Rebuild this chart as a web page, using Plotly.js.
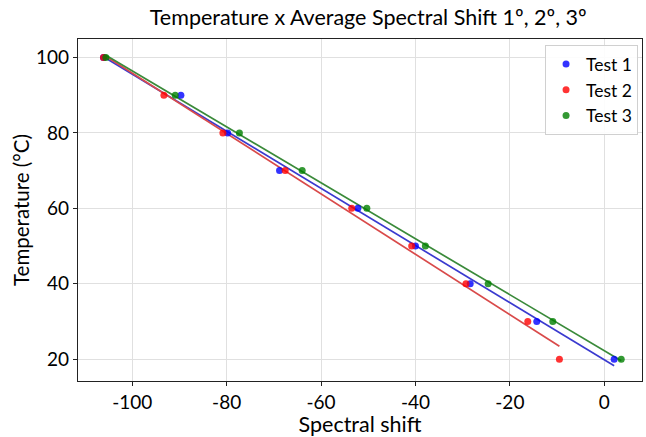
<!DOCTYPE html>
<html>
<head>
<meta charset="utf-8">
<script src="https://cdn.plot.ly/plotly-3.0.1.min.js"></script>
<style>body{margin:0;padding:0;background:#fff}#chart{width:646px;height:437px}</style>
</head>
<body>
<div id="chart"></div>
<script>
const temperature = [100, 90, 80, 70, 60, 50, 40, 30, 20];
const test1Shift = [-106.1, -89.7, -79.8, -68.8, -52.2, -40.0, -28.4, -14.3, 2.1];
const test2Shift = [-106.1, -93.3, -80.8, -67.6, -53.5, -40.8, -29.3, -16.2, -9.5];
const test3Shift = [-105.6, -90.9, -77.3, -64.0, -50.3, -37.9, -24.6, -10.9, 3.6];
const seriesNames = ["Test 1", "Test 2", "Test 3"];
const markerColors = ["#0000ff", "#ff0000", "#008000"];
const lineColors = ["#3a3acf", "#d94a4a", "#3a8a3a"];
const xTicks = [-100, -80, -60, -40, -20, 0];
const yTicks = [20, 40, 60, 80, 100];

function fit(xs, ys) {
  const n = xs.length;
  const mx = xs.reduce((a, b) => a + b, 0) / n;
  const my = ys.reduce((a, b) => a + b, 0) / n;
  let sxy = 0, sxx = 0;
  for (let i = 0; i < n; i++) { sxy += (xs[i] - mx) * (ys[i] - my); sxx += (xs[i] - mx) ** 2; }
  const m = sxy / sxx, c = my - m * mx;
  const xmin = Math.min(...xs), xmax = Math.max(...xs);
  return { x: [xmin, xmax], y: [m * xmin + c, m * xmax + c] };
}

const all = [test1Shift, test2Shift, test3Shift];
const traces = [];
all.forEach((s, i) => {
  const f = fit(s, temperature);
  traces.push({ x: f.x, y: f.y, mode: 'lines', line: { color: lineColors[i], width: 1.7 }, showlegend: false, hoverinfo: 'skip' });
});
all.forEach((s, i) => {
  traces.push({ x: s, y: temperature, mode: 'markers', name: seriesNames[i],
    marker: { color: markerColors[i], size: 7, opacity: 0.8 } });
});

const font = "Lato, 'Open Sans', sans-serif";
const layout = {
  width: 646, height: 437,
  margin: { l: 78, r: 4, t: 39, b: 56 },
  paper_bgcolor: '#fff', plot_bgcolor: '#fff',
  font: { family: font, color: '#000', size: 18 },
  title: { text: 'Temperature x Average Spectral Shift 1º, 2º, 3º', x: 0.57, xanchor: 'center', y: 0.96, yanchor: 'middle', font: { size: 21.5, family: font } },
  xaxis: {
    range: [-111.5, 8], tickvals: xTicks, ticktext: xTicks.map(String),
    showgrid: true, gridcolor: '#e0e0e0', gridwidth: 1, zeroline: false,
    showline: true, linecolor: '#222', linewidth: 1.2, mirror: true,
    ticks: 'outside', ticklen: 4, tickcolor: '#222',
    tickfont: { size: 19, family: font },
    title: { text: 'Spectral shift', font: { size: 21.5, family: font }, standoff: 3 }
  },
  yaxis: {
    range: [14.2, 104.9], tickvals: yTicks, ticktext: yTicks.map(String),
    showgrid: true, gridcolor: '#e0e0e0', gridwidth: 1, zeroline: false,
    showline: true, linecolor: '#222', linewidth: 1.2, mirror: true,
    ticks: 'outside', ticklen: 4, tickcolor: '#222',
    tickfont: { size: 19, family: font },
    title: { text: 'Temperature (°C)', font: { size: 20.5, family: font }, standoff: 0 }
  },
  legend: {
    x: 0.993, y: 0.982, xanchor: 'right', yanchor: 'top',
    bgcolor: 'rgba(255,255,255,0.9)', bordercolor: '#d0d0d0', borderwidth: 1,
    font: { size: 17.5, family: font }, tracegroupgap: 0, itemwidth: 30
  },
  showlegend: true
};
Plotly.newPlot('chart', traces, layout, { staticPlot: true, displayModeBar: false });
</script>
</body>
</html>
